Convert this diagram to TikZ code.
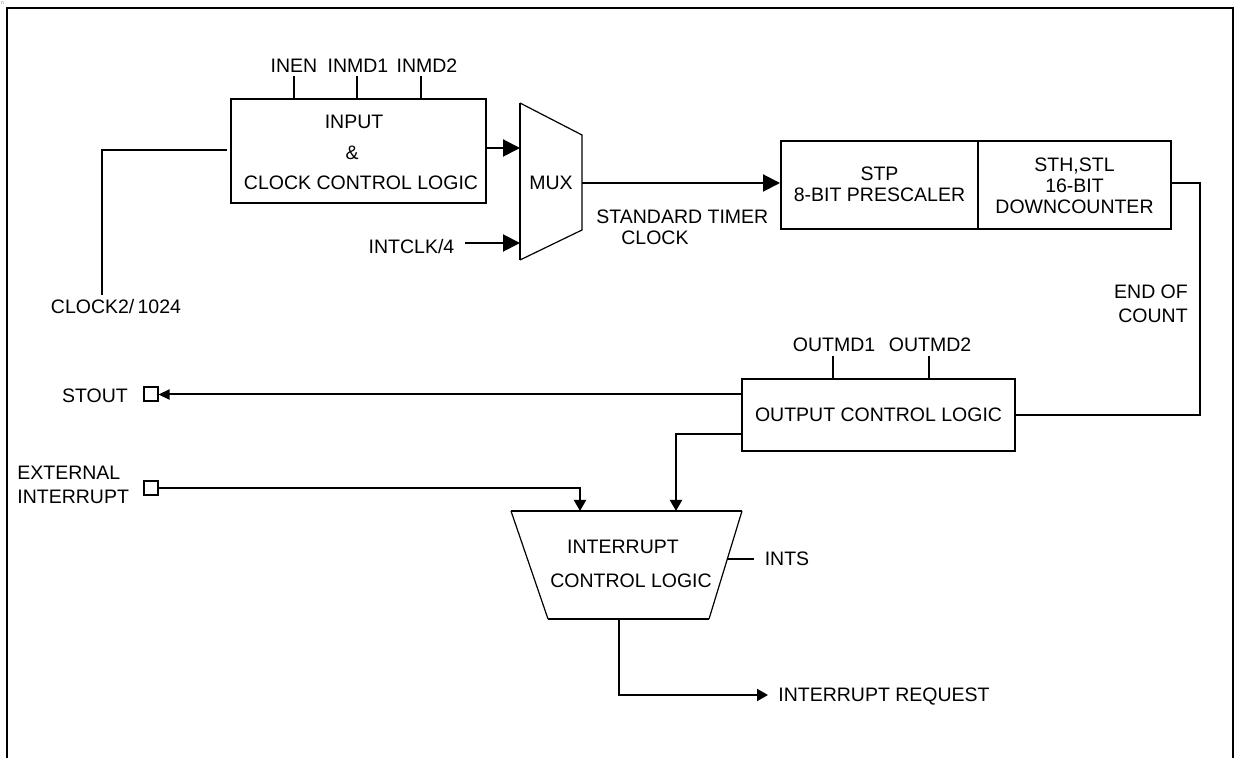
\documentclass[tikz,border=0pt]{standalone}
\usepackage{fontspec}
\setmainfont{Liberation Sans}
\usetikzlibrary{arrows.meta}
\newcommand{\lblfont}{\fontsize{9.75}{11.7}\selectfont}
\tikzset{
  lbl/.style={font=\lblfont, inner sep=0pt, text height=7pt, text depth=0pt},
  box/.style={draw, line width=1pt, inner sep=0pt, font=\lblfont, text height=7pt, text depth=0pt},
  wire/.style={line width=1pt},
  thinline/.style={line width=0.6pt},
  bigarrow/.style={-{Triangle[length=8.5pt,width=8.5pt]}},
  midarrow/.style={-{Triangle[length=5.5pt,width=6pt]}},
  smallarrow/.style={-{Triangle[length=5.5pt,width=5pt]}},
  pin/.style={draw, line width=1pt, minimum size=7pt, inner sep=0pt},
}
\begin{document}
\begin{tikzpicture}[x=0.5pt,y=-0.5pt]
\useasboundingbox (0,0) rectangle (1237,758);
% tiny mark
\node[font=\fontsize{2.5}{3}\selectfont, text=gray, inner sep=0pt] (mark) at (2.5,3) {n};
% frame (open at the bottom)
\draw[line width=1.25pt] (7,758) -- (7,8) -- (1233,8) -- (1233,758);

% ---------------- input & clock control logic
\node[box, minimum width=127.5pt, minimum height=52pt] (inbox) at (358.5,151) {};
\node[lbl] (inT1) at (354,122) {INPUT};
\node[lbl] (inT2) at (352,153) {\&};
\node[lbl] (inT3) at (361,183) {CLOCK CONTROL LOGIC};
\node[lbl] (inen) at (294,66) {INEN};
\node[lbl] (inmd1) at (358,66) {INMD1};
\node[lbl] (inmd2) at (427,66) {INMD2};
\coordinate (tInen) at (294,76);
\coordinate (tInmd1) at (357,76);
\coordinate (tInmd2) at (421,76);
\draw[wire] (tInen) -- (tInen |- inbox.north);
\draw[wire] (tInmd1) -- (tInmd1 |- inbox.north);
\draw[wire] (tInmd2) -- (tInmd2 |- inbox.north);

% clock2/1024
\node[lbl] (clk) at (116,307) {CLOCK2/\,1024};
\coordinate (clkTop) at (102,295);
\coordinate (clkCorner) at (102,150);
\coordinate (clkEnd) at (227,150);
\draw[wire] (clkTop) -- (clkCorner) -- (clkEnd);

% ---------------- MUX
\coordinate (m1) at (520,103);
\coordinate (m2) at (582,135);
\coordinate (m3) at (582,230);
\coordinate (m4) at (520,260);
\draw[thinline] (m1) -- (m2) -- (m3) -- (m4);
\draw[line width=0.9pt] (m4) -- (m1);
\node[lbl] (mux) at (551,183) {MUX};
\coordinate (muxin1) at (520,148);
\coordinate (muxin2) at (520,243);
\coordinate (muxout) at (582,183);
\draw[wire,bigarrow] (inbox.east |- muxin1) -- (muxin1);
\node[lbl] (intclk) at (411.5,247) {INTCLK/4};
\coordinate (intclkEnd) at (465,243);
\draw[wire,bigarrow] (intclkEnd) -- (muxin2);

% ---------------- prescaler / downcounter
\node[box, minimum width=98.5pt, minimum height=44pt] (stp) at (879.5,185) {};
\node[box, minimum width=96.5pt, minimum height=44pt] (sth) at (1074.5,185) {};
\node[lbl] (stpT1) at (879.5,174) {STP};
\node[lbl] (stpT2) at (879.5,195) {8-BIT PRESCALER};
\node[lbl] (sthT1) at (1074.5,165) {STH,STL};
\node[lbl] (sthT2) at (1074.5,186) {16-BIT};
\node[lbl] (sthT3) at (1074.5,207) {DOWNCOUNTER};
\draw[wire,bigarrow] (muxout) -- (stp.west |- muxout);
\node[lbl, anchor=west] (stc1) at (596,217) {STANDARD TIMER};
\node[lbl, anchor=west] (stc2) at (621,238) {CLOCK};

% end of count
\node[lbl] (eoc1) at (1151,292) {END OF};
\node[lbl] (eoc2) at (1153,316) {COUNT};

% ---------------- output control logic
\node[box, minimum width=136.5pt, minimum height=36pt] (outbox) at (878.5,415) {OUTPUT CONTROL LOGIC};
\node[lbl] (outmd1) at (834,345) {OUTMD1};
\node[lbl] (outmd2) at (930,345) {OUTMD2};
\coordinate (tOut1) at (833,356);
\coordinate (tOut2) at (929,356);
\draw[wire] (tOut1) -- (tOut1 |- outbox.north);
\draw[wire] (tOut2) -- (tOut2 |- outbox.north);
\coordinate (eocCorner) at (1200,415);
\draw[wire] (sth.east |- muxout) -| (eocCorner) -- (outbox.east |- eocCorner);

% STOUT
\node[pin] (stoutsq) at (150.5,394.5) {};
\node[lbl] (stout) at (95,396) {STOUT};
\draw[wire,smallarrow] (outbox.west |- stoutsq.east) -- (stoutsq.east);

% external interrupt
\node[pin] (extsq) at (150.5,488.5) {};
\node[lbl, anchor=west] (ext1) at (17,473) {EXTERNAL};
\node[lbl, anchor=west] (ext2) at (17,497) {INTERRUPT};

% ---------------- interrupt control logic
\coordinate (t1) at (511,511);
\coordinate (t2) at (742,511);
\coordinate (t3) at (709,619);
\coordinate (t4) at (548,619);
\draw[wire] (t1) -- (t2);
\draw[wire] (t4) -- (t3);
\draw[thinline] (t1) -- (t4);
\draw[thinline] (t2) -- (t3);
\node[lbl] (icT1) at (623,547) {INTERRUPT};
\node[lbl] (icT2) at (631,581) {CONTROL LOGIC};
\coordinate (ictop1) at (580,511);
\coordinate (ictop2) at (676,511);
\coordinate (outLow) at (742,434);
\draw[wire,midarrow] (extsq.east) -| (ictop1);
\draw[wire,midarrow] (outbox.west |- outLow) -| (ictop2);

% INTS
\coordinate (intsA) at (727,559);
\node[lbl] (ints) at (787,559) {INTS};
\draw[wire] (intsA) -- (754,559) coordinate (intsB);

% interrupt request
\coordinate (icBot) at (619,619);
\coordinate (irqTip) at (768,695);
\node[lbl, anchor=west] (irq) at (778,695) {INTERRUPT REQUEST};
\draw[wire,midarrow] (icBot) |- (irqTip);
\end{tikzpicture}
\end{document}
